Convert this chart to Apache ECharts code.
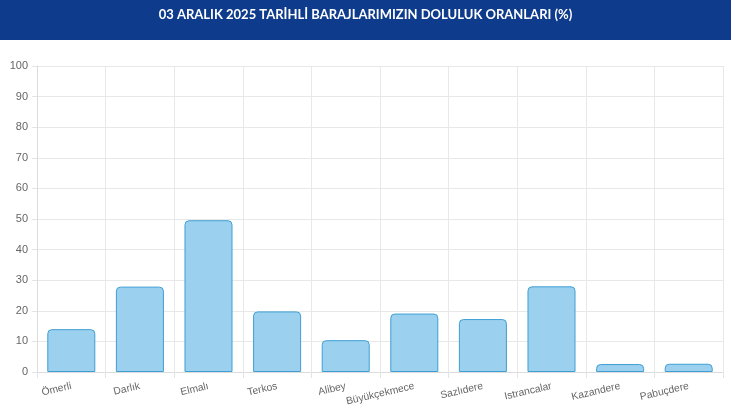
<!DOCTYPE html>
<html>
<head>
<meta charset="utf-8">
<script src="https://cdn.jsdelivr.net/npm/echarts@6/dist/echarts.min.js"></script>
<style>
html,body{margin:0;padding:0;background:#fff;}
#c{width:731px;height:410px;}
</style>
</head>
<body>
<div id="c"></div>
<script>
const titleText = '03 ARALIK 2025 TARİHLİ BARAJLARIMIZIN DOLULUK ORANLARI (%)';
const categories = ['Ömerli','Darlık','Elmalı','Terkos','Alibey','Büyükçekmece','Sazlıdere','Istrancalar','Kazandere','Pabuçdere'];
const values = [14.0, 27.9, 49.6, 19.8, 10.4, 19.1, 17.3, 28.0, 2.6, 2.7];
const yTicks = [0,10,20,30,40,50,60,70,80,90,100];

const chart = echarts.init(document.getElementById('c'), null, {renderer:'canvas'});
chart.setOption({
  animation:false,
  graphic:[
    {type:'rect', left:0, top:0, shape:{width:731, height:40}, style:{fill:'#0e3b8b'}, z:0},
    {type:'text', left:'center', top:8, style:{text:titleText, fill:'#ffffff', font:'bold 13px Lato, "Open Sans", sans-serif'}, z:1}
  ],
  grid:{left:37, right:8, top:66, bottom:38, containLabel:false},
  xAxis:{
    type:'category',
    data:categories,
    boundaryGap:true,
    axisLine:{show:true, lineStyle:{color:'#dcdcdc', width:1}},
    axisTick:{show:true, length:6, lineStyle:{color:'#e4e4e4'}},
    splitLine:{show:true, lineStyle:{color:'#e8e8e8', width:1}},
    axisLabel:{rotate:13, margin:14, color:'#666', fontSize:10.3, fontFamily:'"Liberation Sans", Arial, sans-serif', interval:0}
  },
  yAxis:{
    type:'value',
    min:yTicks[0], max:yTicks[yTicks.length-1], interval:10,
    axisLine:{show:true, lineStyle:{color:'#dcdcdc'}},
    axisTick:{show:true, length:5, lineStyle:{color:'#e4e4e4'}},
    splitLine:{show:true, lineStyle:{color:'#e8e8e8'}},
    axisLabel:{color:'#666', fontSize:11, margin:9, fontFamily:'"Liberation Sans", Arial, sans-serif'}
  },
  series:[{
    type:'bar',
    data:values,
    barWidth:'70%',
    itemStyle:{color:'#9bd0ee', borderColor:'#3f9fd4', borderWidth:1, borderRadius:[4,4,0,0]}
  }]
});
</script>
</body>
</html>
